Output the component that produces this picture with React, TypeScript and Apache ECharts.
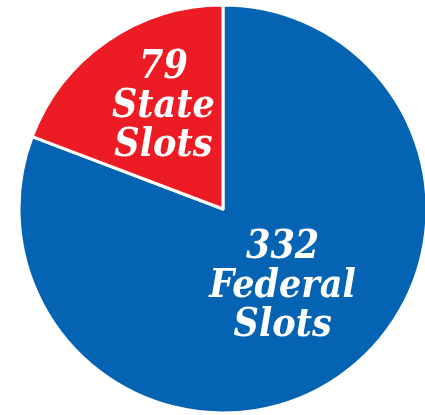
import React, { useEffect, useRef } from "react";
import * as echarts from "echarts";

const categories = ["Federal", "State"];
const values = [332, 79];
const labelLines = [
  ["332", "Federal", "Slots"],
  ["79", "State", "Slots"],
];
const colors = ["#0563B4", "#ED1C24"];

export default function App() {
  const ref = useRef<HTMLDivElement>(null);
  useEffect(() => {
    if (!ref.current) return;
    const chart = echarts.init(ref.current, null, { renderer: "svg" });
    const font = "'DejaVu Serif Condensed', 'DejaVu Serif', serif";
    chart.setOption({
      animation: false,
      series: [
        {
          type: "pie",
          center: [223, 209],
          radius: [0, 204],
          startAngle: 90,
          clockwise: true,
          avoidLabelOverlap: false,
          itemStyle: { borderColor: "#ffffff", borderWidth: 3 },
          label: {
            show: true,
            position: "inside",
            color: "#ffffff",
            fontFamily: font,
            fontStyle: "italic",
            fontWeight: "bold",
            fontSize: 39,
            lineHeight: 39,
            align: "center",
            rich: {
              t: {
                color: "#ffffff",
                fontFamily: font,
                fontStyle: "italic",
                fontWeight: "bold",
                fontSize: 39,
                lineHeight: 39,
              },
              g1: { fontSize: 10, lineHeight: 40 },
              g0: { fontSize: 10, lineHeight: 25 },
            },
          },
          labelLine: { show: false },
          data: categories.map((c, i) => ({
            name: c,
            value: values[i],
            itemStyle: { color: colors[i] },
            label: {
              formatter:
                labelLines[i].map((s) => `{t|${s}}`).join("\n") +
                `\n{g${i}| }`,
            },
          })),
        },
      ],
    });
    return () => chart.dispose();
  }, []);
  return (
    <div
      ref={ref}
      style={{ position: "fixed", left: 0, top: 0, width: 425, height: 415 }}
    />
  );
}
